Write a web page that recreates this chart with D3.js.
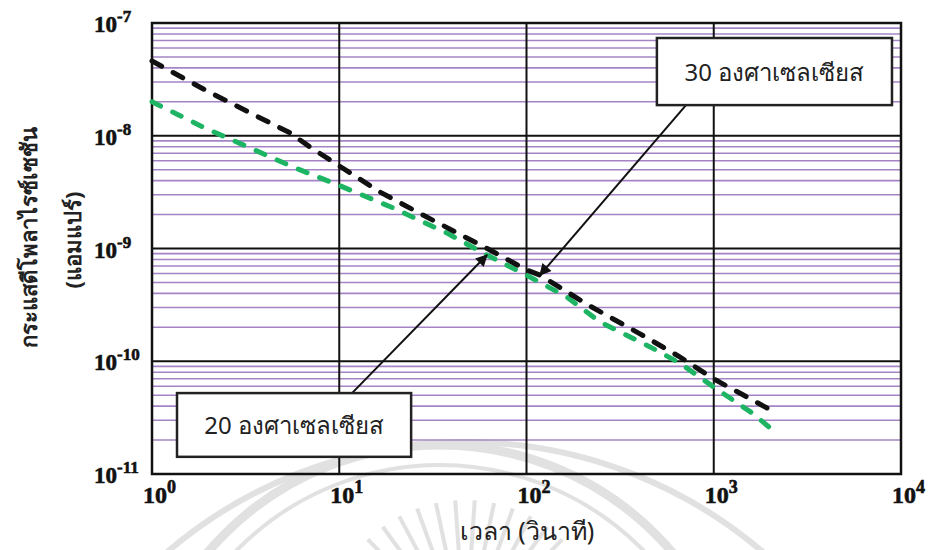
<!DOCTYPE html>
<html><head><meta charset="utf-8">
<script src="https://cdn.jsdelivr.net/npm/d3@7"></script>
<style>html,body{margin:0;padding:0;background:#fff;}svg{display:block;}</style>
</head><body>
<svg id="chart" width="931" height="550"></svg>
<script>
// ---- data ----
const time30 = [1, 1.92, 3.26, 5.46, 6.98, 10, 16.5, 28, 48, 63.8, 100, 118, 218, 404, 661, 1000, 1925];
const current30 = [4.6e-8, 2.55e-8, 1.63e-8, 1.06e-8, 7.94e-9, 5.4e-9, 3.17e-9, 1.98e-9, 1.24e-9, 9.7e-10, 6.45e-10, 5.8e-10, 3.09e-10, 1.75e-10, 1.09e-10, 6.97e-11, 3.85e-11];
const time20 = [1, 1.92, 3.26, 5.66, 9.85, 19.4, 37.6, 61.5, 100, 164, 247, 457, 661, 1000, 1600, 1973];
const current20 = [2.0e-8, 1.17e-8, 7.94e-9, 5.28e-9, 3.66e-9, 2.29e-9, 1.37e-9, 8.75e-10, 5.8e-10, 3.72e-10, 2.23e-10, 1.34e-10, 9.6e-11, 5.9e-11, 3.48e-11, 2.61e-11];
const xTickExp = [0, 1, 2, 3, 4];
const yTickExp = [-7, -8, -9, -10, -11];
const seriesLabels = ["30 องศาเซลเซียส", "20 องศาเซลเซียส"];
// annotation anchors in data space: box corners [t0, t1, c0, c1], arrow tail and tip
const box30 = [497, 8950, 7.36e-8, 1.87e-8];
const arrow30 = [[711, 1.87e-8], [118, 5.8e-10]];
const box20 = [1.36, 24.2, 5.22e-11, 1.42e-11];
const arrow20 = [[11.7, 5.22e-11], [61.5, 8.75e-10]];
const xTitle = "เวลา (วินาที)";
const yTitle1 = "กระแสดีโพลาไรซ์เซชัน";
const yTitle2 = "(แอมแปร์)";

// ---- layout ----
const svg = d3.select("#chart");
const L = 152, R = 901, T = 23, B = 474;
const x = d3.scaleLog().domain([1, 1e4]).range([L, R]);
const y = d3.scaleLog().domain([1e-11, 1e-7]).range([B, T]);

// watermark
const wm = svg.append("g").attr("fill", "none").attr("stroke", "#c4c4c4").attr("opacity", 0.5);
wm.append("circle").attr("cx", 440).attr("cy", 750).attr("r", 305).attr("stroke-width", 9);
wm.append("circle").attr("cx", 440).attr("cy", 750).attr("r", 285).attr("stroke-width", 4);
wm.append("circle").attr("cx", 465).attr("cy", 900).attr("r", 458).attr("stroke-width", 6);
for (let a = -60; a <= 60; a += 8) {
  const rad = (a - 90) * Math.PI / 180;
  wm.append("line")
    .attr("x1", 465 + Math.cos(rad) * 90).attr("y1", 640 + Math.sin(rad) * 90)
    .attr("x2", 465 + Math.cos(rad) * 140).attr("y2", 640 + Math.sin(rad) * 140)
    .attr("stroke-width", 4);
}

// minor grid (purple)
const minor = [];
for (let e = -11; e < -7; e++) for (let m = 2; m <= 9; m++) minor.push(m * Math.pow(10, e));
svg.append("g").selectAll("line").data(minor).join("line")
  .attr("x1", L).attr("x2", R)
  .attr("y1", d => y(d)).attr("y2", d => y(d))
  .attr("stroke", "#a584c6").attr("stroke-width", 1.6);

// major grid (black)
svg.append("g").selectAll("line").data(yTickExp).join("line")
  .attr("x1", L).attr("x2", R)
  .attr("y1", d => y(Math.pow(10, d))).attr("y2", d => y(Math.pow(10, d)))
  .attr("stroke", "#111").attr("stroke-width", 2);
svg.append("g").selectAll("line").data(xTickExp).join("line")
  .attr("y1", T).attr("y2", B)
  .attr("x1", d => x(Math.pow(10, d))).attr("x2", d => x(Math.pow(10, d)))
  .attr("stroke", "#111").attr("stroke-width", 2);
svg.append("rect").attr("x", L).attr("y", T).attr("width", R - L).attr("height", B - T)
  .attr("fill", "none").attr("stroke", "#111").attr("stroke-width", 2.5);

// lines
const line = d3.line().x(d => x(d[0])).y(d => y(d[1]));
svg.append("path").datum(d3.zip(time20, current20)).attr("d", line)
  .attr("fill", "none").attr("stroke", "#1db563").attr("stroke-width", 5)
  .attr("stroke-dasharray", "9.5,13.5").attr("stroke-linecap", "round");
svg.append("path").datum(d3.zip(time30, current30)).attr("d", line)
  .attr("fill", "none").attr("stroke", "#111").attr("stroke-width", 5)
  .attr("stroke-dasharray", "11,13").attr("stroke-linecap", "round");

// tick labels
const yl = svg.append("g").attr("font-family", "'Liberation Serif','Times New Roman',serif")
  .attr("font-weight", "bold").attr("fill", "#111").attr("stroke", "#111").attr("stroke-width", 0.6);
yTickExp.forEach(e => {
  const t = yl.append("text").attr("x", 94).attr("y", y(Math.pow(10, e)) + 9).attr("font-size", 23);
  t.append("tspan").text("10");
  t.append("tspan").attr("dy", -10).attr("font-size", 17).text(e);
});
const xl = svg.append("g").attr("font-family", "'Liberation Serif','Times New Roman',serif")
  .attr("font-weight", "bold").attr("fill", "#111").attr("stroke", "#111").attr("stroke-width", 0.6);
xTickExp.forEach(e => {
  const t = xl.append("text").attr("x", x(Math.pow(10, e)) - 9).attr("y", 503).attr("font-size", 24);
  t.append("tspan").text("10");
  t.append("tspan").attr("dy", -10).attr("font-size", 18).text(e);
});

// axis titles
const thai = "Tahoma, 'Noto Sans', 'DejaVu Sans', sans-serif";
svg.append("text").attr("x", 527).attr("y", 540).attr("text-anchor", "middle")
  .attr("font-family", thai).attr("font-size", 25).attr("fill", "#222").text(xTitle);
svg.append("text").attr("transform", "translate(37,237) rotate(-90)").attr("text-anchor", "middle")
  .attr("font-family", thai).attr("font-weight", "bold").attr("font-size", 22).attr("fill", "#222").text(yTitle1);
svg.append("text").attr("transform", "translate(81,240) rotate(-90)").attr("text-anchor", "middle")
  .attr("font-family", thai).attr("font-weight", "bold").attr("font-size", 22).attr("fill", "#222").text(yTitle2);

// arrows
const defs = svg.append("defs");
defs.append("marker").attr("id", "ah").attr("viewBox", "0 0 10 10").attr("refX", 9).attr("refY", 5)
  .attr("markerWidth", 7).attr("markerHeight", 6).attr("markerUnits", "strokeWidth").attr("orient", "auto")
  .append("path").attr("d", "M0,0 L10,5 L0,10 z").attr("fill", "#111");
[arrow30, arrow20].forEach(a => {
  svg.append("line")
    .attr("x1", x(a[0][0])).attr("y1", y(a[0][1]))
    .attr("x2", x(a[1][0])).attr("y2", y(a[1][1]))
    .attr("stroke", "#111").attr("stroke-width", 2).attr("marker-end", "url(#ah)");
});

// label boxes
[[box30, seriesLabels[0]], [box20, seriesLabels[1]]].forEach(([b, lab]) => {
  const x0 = x(b[0]), x1 = x(b[1]), y0 = y(b[2]), y1 = y(b[3]);
  svg.append("rect").attr("x", x0).attr("y", y0).attr("width", x1 - x0).attr("height", y1 - y0)
    .attr("fill", "#fff").attr("stroke", "#222").attr("stroke-width", 2.5);
  svg.append("text").attr("x", (x0 + x1) / 2).attr("y", (y0 + y1) / 2 + 9).attr("text-anchor", "middle")
    .attr("font-family", thai).attr("font-size", 24).attr("fill", "#222").text(lab);
});
</script>
</body></html>
